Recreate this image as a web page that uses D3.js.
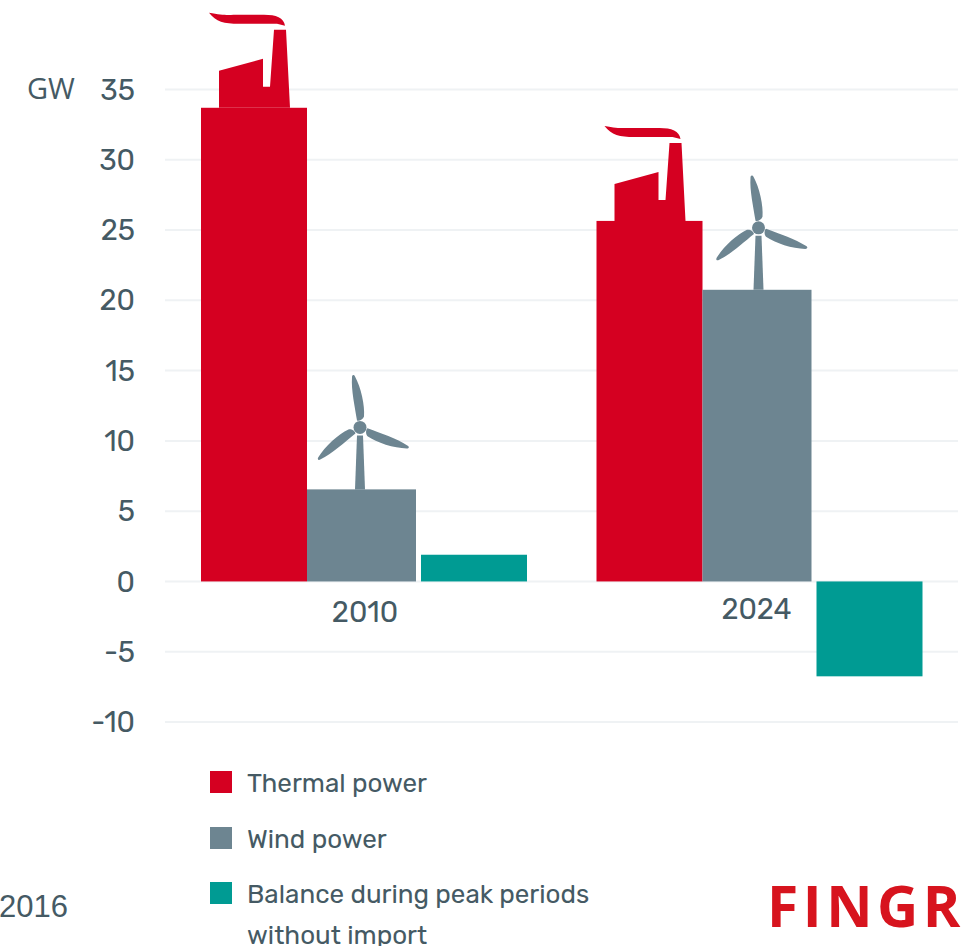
<!DOCTYPE html>
<html><head><meta charset="utf-8">
<script src="https://cdnjs.cloudflare.com/ajax/libs/d3/7.8.5/d3.min.js"></script>
<style>html,body{margin:0;padding:0;background:#fff;overflow:hidden}svg{display:block}</style>
</head><body><svg id="c" width="964" height="946"></svg>
<script>
const categories = ["2010", "2024"];
const seriesNames = ["Thermal power", "Wind power", "Balance during peak periods"];
const thermal = [33.7, 25.65];
const wind = [6.55, 20.75];
const balance = [1.9, -6.75];
const yTicks = [35, 30, 25, 20, 15, 10, 5, 0, -5, -10];
const colors = ["#d50021", "#6d8591", "#009b93"];
const textColor = "#455a64";
const font = "Rubik, Lato, 'Open Sans', sans-serif";

const svg = d3.select("#c");
const y = d3.scaleLinear().domain([-10, 35]).range([722, 89.5]);
const x = d3.scalePoint().domain(categories).range([201, 596.5]);
const sx = d3.scaleOrdinal().domain(seriesNames).range([0, 106, 220]);
const sw = d3.scaleOrdinal().domain(seriesNames).range([106, 109, 106]);

// grid
svg.append("g").selectAll("line").data(yTicks).join("line")
  .attr("x1", 165).attr("x2", 958).attr("y1", d => y(d)).attr("y2", d => y(d))
  .attr("stroke", "#eff2f4").attr("stroke-width", 2);
const yAxis = d3.axisLeft(y).tickValues(yTicks).tickSize(0).tickPadding(0);
const gy = svg.append("g").attr("transform", "translate(135,0)").call(yAxis);
gy.select(".domain").remove();
gy.selectAll("text").attr("font-family", font).attr("font-size", 29).attr("fill", textColor)
  .attr("text-anchor", "end").attr("dy", "0.33em").text(d => d);
svg.append("text").attr("x", 27).attr("y", y(35)).attr("dy", "0.33em").text("GW")
  .attr("font-family", "'Open Sans', sans-serif").attr("font-size", 29).attr("fill", textColor);

// bars
const series = [thermal, wind, balance];
series.forEach((vals, i) => {
  const name = seriesNames[i];
  svg.append("g").selectAll("rect").data(vals).join("rect")
    .attr("x", (d, j) => x(categories[j]) + sx(name))
    .attr("width", sw(name))
    .attr("y", d => y(Math.max(0, d)))
    .attr("height", d => Math.abs(y(d) - y(0)))
    .attr("fill", colors[i]);
});

// category labels
const labelY = [612, 609];
const labelDx = [164, 160];
svg.append("g").selectAll("text").data(categories).join("text")
  .attr("x", (d, j) => x(d) + labelDx[j]).attr("y", (d, j) => labelY[j]).attr("dy", "0.35em")
  .attr("text-anchor", "middle").text(d => d)
  .attr("font-family", font).attr("font-size", 29).attr("fill", textColor);

// factory icons, on top of thermal bars
const factoryBody = "M-35,0 L-35,-37 L9,-49 L9,-21 L16,-21 L20,-78 L32,-78 L36,0 Z";
const factorySmoke = "M-45,-95 C-30,-92 -25,-93 -15,-93 L10,-93 C22,-93 30,-90 31,-82 L23,-84 L-15,-84 C-30,-84 -38,-86 -45,-95 Z";
thermal.forEach((v, j) => {
  const g = svg.append("g").attr("transform",
    `translate(${x(categories[j]) + sx(seriesNames[0]) + sw(seriesNames[0]) / 2},${y(v)})`);
  g.append("path").attr("d", factoryBody).attr("fill", colors[0]);
  g.append("path").attr("d", factorySmoke).attr("fill", colors[0]);
});

// turbine icons, on top of wind bars
const blade = "M-3,-7 C-5,-20 -9,-38 -8,-50 C-8,-53 -6,-53 -5,-51 C1,-40 5,-22 4,-11 C3,-8 -1,-6 -3,-7 Z";
const hubOffset = [-1.5, 1.5];
wind.forEach((v, j) => {
  const cx = x(categories[j]) + sx(seriesNames[1]) + sw(seriesNames[1]) / 2 + hubOffset[j];
  const g = svg.append("g").attr("transform", `translate(${cx},${y(v)})`).attr("fill", colors[1]);
  g.append("path").attr("d", "M-3,-54 L3,-54 L5,0 L-5,0 Z");
  g.append("circle").attr("cy", -62).attr("r", 6.5);
  [0, 120, 240].forEach(a => g.append("path").attr("d", blade)
    .attr("transform", `translate(0,-62) rotate(${a})`));
});

// legend
const legendRows = [
  {label: ["Thermal power"], c: 0, y: 771},
  {label: ["Wind power"], c: 1, y: 827},
  {label: ["Balance during peak periods", "without import"], c: 2, y: 882}
];
legendRows.forEach(r => {
  svg.append("rect").attr("x", 210).attr("y", r.y).attr("width", 22).attr("height", 22).attr("fill", colors[r.c]);
  r.label.forEach((t, k) => svg.append("text").attr("x", 247).attr("y", r.y + 21 + k * 41)
    .attr("font-family", font).attr("font-size", 26).attr("fill", textColor).text(t));
});

// source + logo
svg.append("text").attr("x", -1).attr("y", 917).text("2016")
  .attr("font-family", "'Liberation Sans', Arial, sans-serif").attr("font-size", 31).attr("fill", textColor);
svg.append("text").attr("x", 767).attr("y", 927).text("FINGR")
  .attr("font-family", "'Open Sans', sans-serif").attr("font-weight", 700).attr("font-size", 57)
  .attr("letter-spacing", 4.5).attr("fill", "#d7141e");
</script></body></html>
